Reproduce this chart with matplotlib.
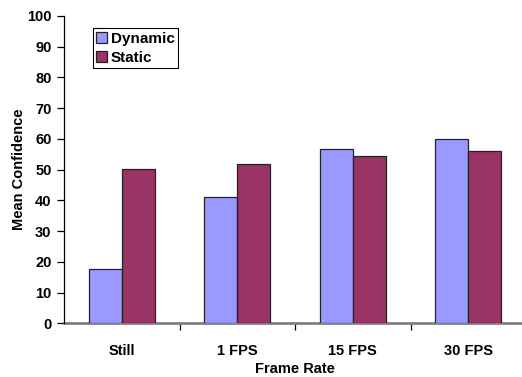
import matplotlib
matplotlib.use("Agg")
import matplotlib.pyplot as plt
import numpy as np

categories = ["Still", "1 FPS", "15 FPS", "30 FPS"]
dynamic = [17.7, 41.0, 56.6, 60.0]
static = [50.3, 52.0, 54.3, 56.1]
series_names = ["Dynamic", "Static"]
y_ticks = list(range(0, 101, 10))

plt.rcParams["font.family"] = ["Liberation Sans", "DejaVu Sans"]
plt.rcParams["font.weight"] = "bold"

W, H = 522, 377
fig = plt.figure(figsize=(W / 100, H / 100), dpi=100)
# axes spans from the y axis line to slightly past the right edge
left_px, right_px, top_px, bottom_px = 64, 526, 16, 323.3
ax = fig.add_axes([left_px / W, 1 - bottom_px / H,
                   (right_px - left_px) / W, (bottom_px - top_px) / H])

x = np.arange(len(categories))
bw = 0.286
ax.bar(x - bw / 2, dynamic, bw, color="#9999FF", edgecolor="#222222",
       linewidth=0.9, label=series_names[0], zorder=3)
ax.bar(x + bw / 2, static, bw, color="#993366", edgecolor="#222222",
       linewidth=0.9, label=series_names[1], zorder=3)

ax.set_xlim(-0.5, len(categories) - 0.5)
ax.set_ylim(0, 100)
ax.set_yticks(y_ticks)
ax.set_yticklabels([str(t) for t in y_ticks], fontsize=10.5, fontweight="bold")

# category labels centered, tick marks on the boundaries between groups
ax.set_xticks(x)
ax.set_xticklabels(categories, fontsize=10.5, fontweight="bold")
ax.set_xticks(np.arange(0.5, len(categories) - 0.5, 1), minor=True)
ax.tick_params(axis="x", which="major", length=0, pad=15)
ax.tick_params(axis="x", which="minor", length=5, width=0.9, color="black")
ax.tick_params(axis="y", length=5, width=0.9, color="black", pad=4)

for s in ("top", "right"):
    ax.spines[s].set_visible(False)
ax.spines["left"].set_color("black")
ax.spines["left"].set_linewidth(0.9)
ax.spines["bottom"].set_color("#808080")
ax.spines["bottom"].set_linewidth(2)
ax.spines["left"].set_zorder(4)

ax.set_xlabel("Frame Rate", fontsize=10.5, fontweight="bold", labelpad=3)
ax.set_ylabel("Mean Confidence", fontsize=10.5, fontweight="bold", labelpad=1)

leg = ax.legend(loc="upper left", bbox_to_anchor=((92.7 - left_px) / (right_px - left_px),
                                                   (bottom_px - 28.3) / (bottom_px - top_px)),
                frameon=True, fancybox=False, framealpha=1, edgecolor="black",
                prop={"size": 11, "weight": "bold"}, handlelength=0.7,
                handleheight=0.7, handletextpad=0.25, labelspacing=0.35,
                borderpad=0.22, borderaxespad=0)
leg.get_frame().set_linewidth(0.8)

fig.savefig("out.png", dpi=100)
